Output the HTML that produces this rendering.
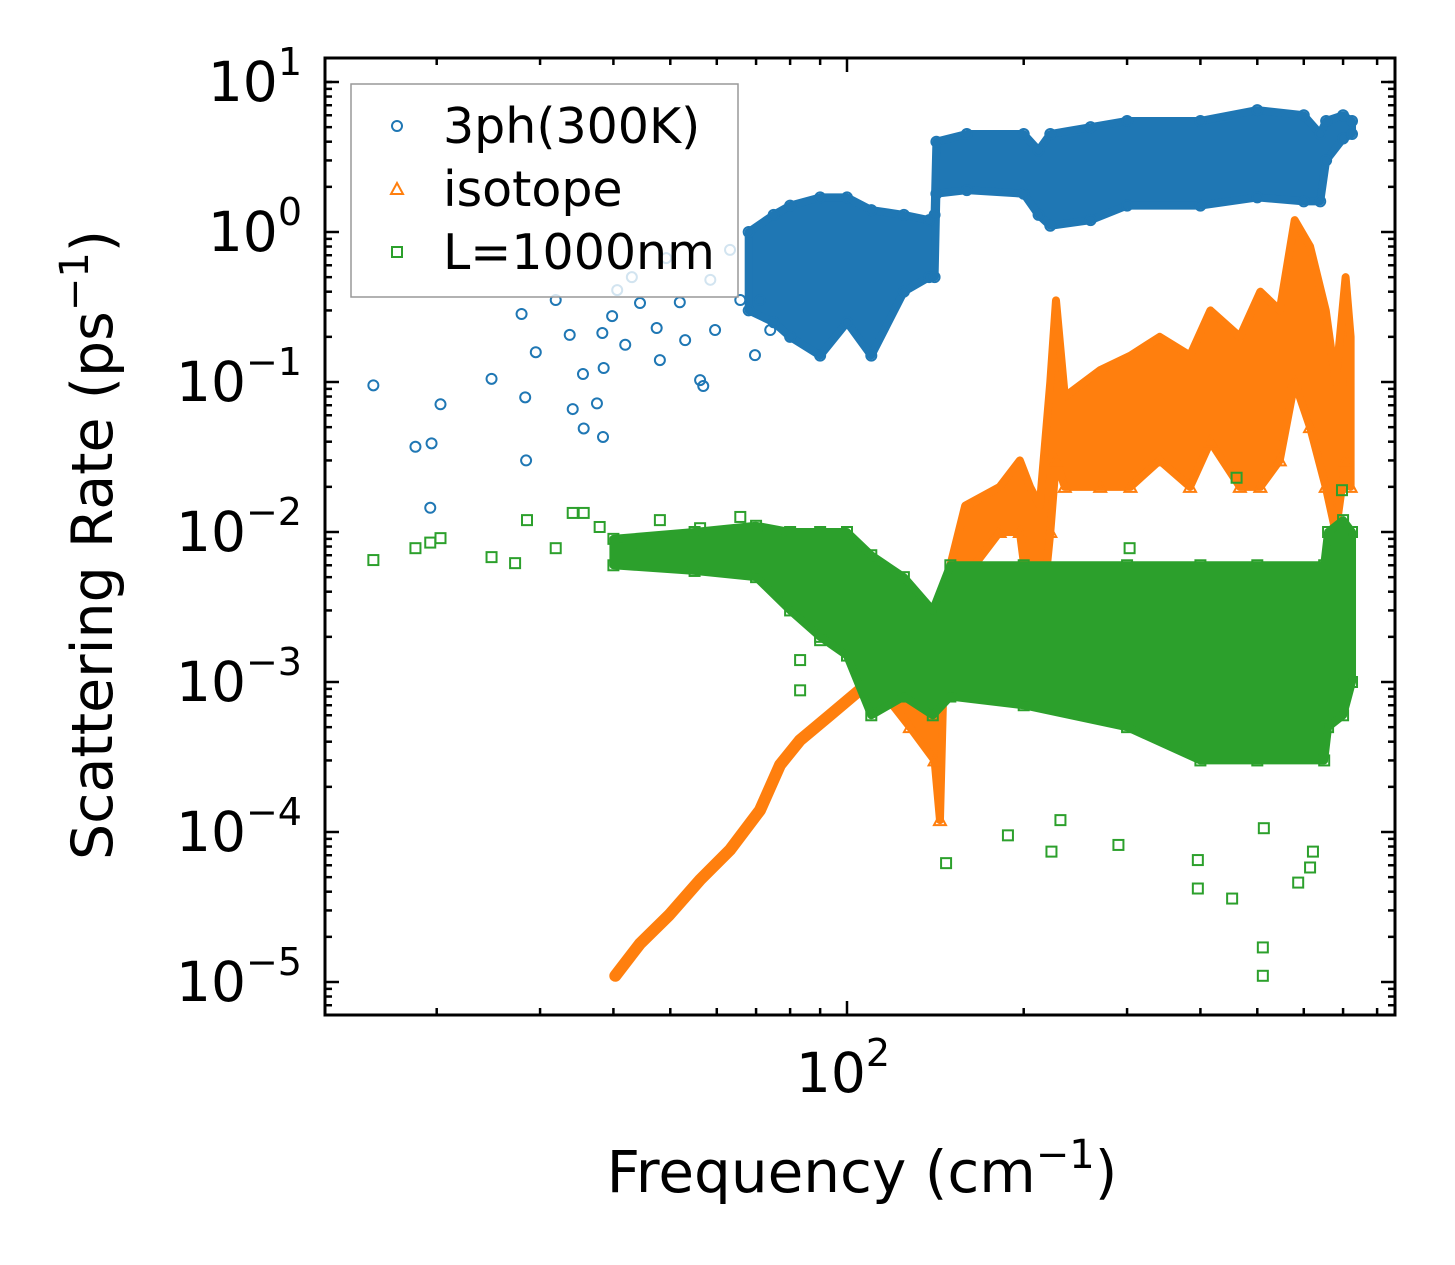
<!DOCTYPE html>
<html><head><meta charset="utf-8"><style>
html,body{margin:0;padding:0;background:#fff;}
svg{display:block;font-family:"DejaVu Sans","Liberation Sans",sans-serif;}
</style></head><body>
<svg id="chart" width="1455" height="1265" viewBox="0 0 1455 1265">
<rect x="0" y="0" width="1455" height="1265" fill="#fff"/>
<g id="plot"></g>
<g id="axes"></g>
</svg>
<script>
// ---- data ----
const blueSparseF=[15.6,18.4,19.6,19.5,20.3,24.8,27.9,28.3,28.4,29.5,31.9,33.7,34.1,35.5,35.6,37.5,38.3,38.4,38.5,39.8,40.6,41.9,43.0,44.4,47.4,48.0,49.2,51.9,53.0,56.2,56.9,58.5,59.6,63.2,65.8,69.7,71.1,74.0];
const blueSparseV=[0.095,0.037,0.039,0.0145,0.071,0.105,0.284,0.079,0.030,0.158,0.352,0.206,0.066,0.113,0.049,0.072,0.212,0.043,0.124,0.275,0.41,0.177,0.50,0.336,0.229,0.14,0.67,0.34,0.19,0.103,0.094,0.48,0.222,0.76,0.352,0.151,0.352,0.222];
const blueBandF=[68,75,80,90,100,110,125,138,141,142,160,200,212,222,260,300,400,500,600,640,655,700,725];
const blueBandLo=[0.3,0.25,0.2,0.15,0.25,0.15,0.4,0.5,0.5,1.8,1.9,1.8,1.3,1.1,1.2,1.5,1.5,1.7,1.6,1.6,3.0,4.2,4.5];
const blueBandHi=[1.0,1.3,1.5,1.7,1.7,1.4,1.3,1.2,1.3,4.0,4.5,4.5,3.5,4.5,5.0,5.5,5.5,6.5,6.0,4.5,5.5,6.0,5.5];
const orangeLineF=[40.3,44.4,49.8,56.2,63.2,71.1,76.9,83.2,93.5,105,113.8];
const orangeLineV=[1.1e-5,1.8e-5,2.8e-5,4.8e-5,7.6e-5,1.4e-4,2.8e-4,4.1e-4,6.0e-4,8.8e-4,1.3e-3];
const orangeBandF=[113.8,128,141,144,146,150,159,182,197,205,213,222,227,235,270,304,341,384,416,467,506,546,579,615,654,680,707,721];
const orangeBandLo=[9e-4,5e-4,3e-4,1.2e-4,1e-3,2e-3,5e-3,1e-2,1e-2,3e-3,2e-3,1e-2,3e-2,2e-2,2e-2,2e-2,3e-2,2e-2,4e-2,2e-2,2e-2,3e-2,0.1,0.05,0.02,0.01,0.03,0.02];
const orangeBandHi=[2e-3,2e-3,1.5e-3,2e-3,3e-3,6e-3,1.5e-2,2e-2,3e-2,2e-2,1.5e-2,0.1,0.35,0.08,0.12,0.15,0.2,0.15,0.3,0.2,0.4,0.3,1.2,0.8,0.3,0.1,0.5,0.2];
const greenSparseF=[15.6,18.4,19.5,20.3,24.8,27.2,28.5,31.9,34.1,35.6,37.9,40.6,44.4,48.0,56.2,65.8,147.5,188,223,231,290,396,396,453,511,511,587,615,622,513,83.2,83.2,90,461,697,303];
const greenSparseV=[0.0065,0.0078,0.0085,0.0091,0.0068,0.0062,0.012,0.0078,0.0134,0.0134,0.0108,0.0078,0.0082,0.012,0.0106,0.0126,6.2e-5,9.5e-5,7.4e-5,1.2e-4,8.2e-5,6.5e-5,4.2e-5,3.6e-5,1.7e-5,1.1e-5,4.6e-5,5.8e-5,7.4e-5,1.06e-4,8.8e-4,1.4e-3,1.9e-3,0.023,0.019,0.0078];
const greenBandF=[40,55,70,80,90,100,110,125,140,150,200,300,400,500,650,660,700,725];
const greenBandLo=[6e-3,5.5e-3,5e-3,3e-3,2e-3,1.5e-3,6e-4,8e-4,6e-4,8e-4,7e-4,5e-4,3e-4,3e-4,3e-4,5e-4,6e-4,1e-3];
const greenBandHi=[9e-3,1e-2,1.1e-2,1e-2,1e-2,1e-2,7e-3,5e-3,3e-3,6e-3,6e-3,6e-3,6e-3,6e-3,6e-3,1e-2,1.2e-2,1e-2];
const yTickExps=[1,0,-1,-2,-3,-4,-5];
const xMajor=[100];
const xMinor=[20,30,40,50,60,70,80,90,200,300,400,500,600,700,800];

// ---- axes functions ----
const L=325,R=1395,T=58,B=1015;
const X=f=>847+587*Math.log10(f/100);
const Y=v=>232-150*Math.log10(v);
const NS='http://www.w3.org/2000/svg';
const plot=document.getElementById('plot'),axes=document.getElementById('axes');
function mk(tag,attrs,parent){const e=document.createElementNS(NS,tag);for(const k in attrs)e.setAttribute(k,attrs[k]);parent.appendChild(e);return e;}
const C={b:'#1f77b4',o:'#ff7f0e',g:'#2ca02c'};
const clip=mk('clipPath',{id:'clp'},document.getElementById('chart'));
mk('rect',{x:L,y:T,width:R-L,height:B-T},clip);
plot.setAttribute('clip-path','url(#clp)');

function band(F,LO,HI,col,name){
  let pts=F.map((f,i)=>X(f)+','+Y(HI[i]));
  for(let i=F.length-1;i>=0;i--)pts.push(X(F[i])+','+Y(LO[i]));
  const p=mk('polygon',{points:pts.join(' '),fill:col,stroke:col,'stroke-width':8,'stroke-linejoin':'round'},plot);
  
  
}
function marker(type,x,y,col,name){
  let e;
  if(type==='c')e=mk('circle',{cx:x,cy:y,r:5,fill:'none',stroke:col,'stroke-width':2},plot);
  else if(type==='s')e=mk('rect',{x:x-5,y:y-5,width:10,height:10,fill:'none',stroke:col,'stroke-width':2},plot);
  else e=mk('polygon',{points:`${x},${y-6} ${x+6},${y+5} ${x-6},${y+5}`,fill:'none',stroke:col,'stroke-width':2},plot);
  
  
}
// blue
band(blueBandF,blueBandLo,blueBandHi,C.b,'3ph-dense-band');
blueBandF.forEach((f,i)=>{marker('c',X(f),Y(blueBandLo[i]),C.b,'3ph-point');marker('c',X(f),Y(blueBandHi[i]),C.b,'3ph-point');});
blueSparseF.forEach((f,i)=>marker('c',X(f),Y(blueSparseV[i]),C.b,'3ph-point'));
// orange
const ol=mk('polyline',{points:orangeLineF.map((f,i)=>X(f)+','+Y(orangeLineV[i])).join(' '),fill:'none',stroke:C.o,'stroke-width':12,'stroke-linejoin':'round','stroke-linecap':'round'},plot);


band(orangeBandF,orangeBandLo,orangeBandHi,C.o,'isotope-dense-band');
orangeBandF.forEach((f,i)=>marker('t',X(f),Y(orangeBandLo[i]),C.o,'isotope-point'));
// green
band(greenBandF,greenBandLo,greenBandHi,C.g,'boundary-dense-band');
greenBandF.forEach((f,i)=>{marker('s',X(f),Y(greenBandLo[i]),C.g,'boundary-point');marker('s',X(f),Y(greenBandHi[i]),C.g,'boundary-point');});
greenSparseF.forEach((f,i)=>marker('s',X(f),Y(greenSparseV[i]),C.g,'boundary-point'));

// ---- axes ----
const fr=mk('rect',{x:L,y:T,width:R-L,height:B-T,fill:'none',stroke:'#000','stroke-width':3},axes);


function tk(x1,y1,x2,y2){mk('line',{x1,y1,x2,y2,stroke:'#000','stroke-width':2.5},axes);}
yTickExps.forEach(e=>{
  const y=Y(Math.pow(10,e));
  tk(L,y,L+14,y);tk(R,y,R-14,y);
  const t=mk('text',{x:302,y:y+19,'text-anchor':'end','font-size':55},axes);
  
  
  t.innerHTML=`10<tspan dy="-26" font-size="38">${e<0?'\u2212'+(-e):e}</tspan>`;
  for(let m=2;m<=9;m++){const v=m*Math.pow(10,e-1);const yy=Y(v);if(yy>T&&yy<B){tk(L,yy,L+7,yy);tk(R,yy,R-7,yy);}}
});
[1,2,3,4,5,6,7].forEach(m=>{const yy=Y(m*10);if(yy>T){tk(L,yy,L+7,yy);tk(R,yy,R-7,yy);}});
xMajor.forEach(f=>{const x=X(f);tk(x,B,x,B-14);tk(x,T,x,T+14);
  const t=mk('text',{x:x-4,y:1092,'text-anchor':'middle','font-size':55},axes);
  
  
  t.innerHTML='10<tspan dy="-26" font-size="38">2</tspan>';});
xMinor.forEach(f=>{const x=X(f);if(x>L&&x<R){tk(x,B,x,B-7);tk(x,T,x,T+7);}});
const xl=mk('text',{x:862,y:1192,'text-anchor':'middle','font-size':58},axes);


xl.innerHTML='Frequency (cm<tspan dy="-24" font-size="40">\u22121</tspan><tspan dy="24">)</tspan>';
const yl=mk('text',{x:0,y:0,'text-anchor':'middle','font-size':57,transform:'translate(112,545) rotate(-90)'},axes);


yl.innerHTML='Scattering Rate (ps<tspan dy="-24" font-size="40">\u22121</tspan><tspan dy="24">)</tspan>';
// legend
const lg=mk('g',{},axes);


mk('rect',{x:351,y:84,width:387,height:213,fill:'rgba(255,255,255,0.8)',stroke:'#999','stroke-width':1.5},lg);
const legNames=['3ph(300K)','isotope','L=1000nm'];
const legY=[126,189,252];
legNames.forEach((n,i)=>{
  const y=legY[i],x=397;
  let m;
  if(i===0)m=mk('circle',{cx:x,cy:y,r:5,fill:'none',stroke:C.b,'stroke-width':2},lg);
  else if(i===1)m=mk('polygon',{points:`${x},${y-6} ${x+6},${y+5} ${x-6},${y+5}`,fill:'none',stroke:C.o,'stroke-width':2},lg);
  else m=mk('rect',{x:x-5,y:y-5,width:10,height:10,fill:'none',stroke:C.g,'stroke-width':2},lg);
  
  
  const t=mk('text',{x:443,y:y+17,'font-size':49},lg);
  
  
  t.textContent=n;
});
</script>
</body></html>
